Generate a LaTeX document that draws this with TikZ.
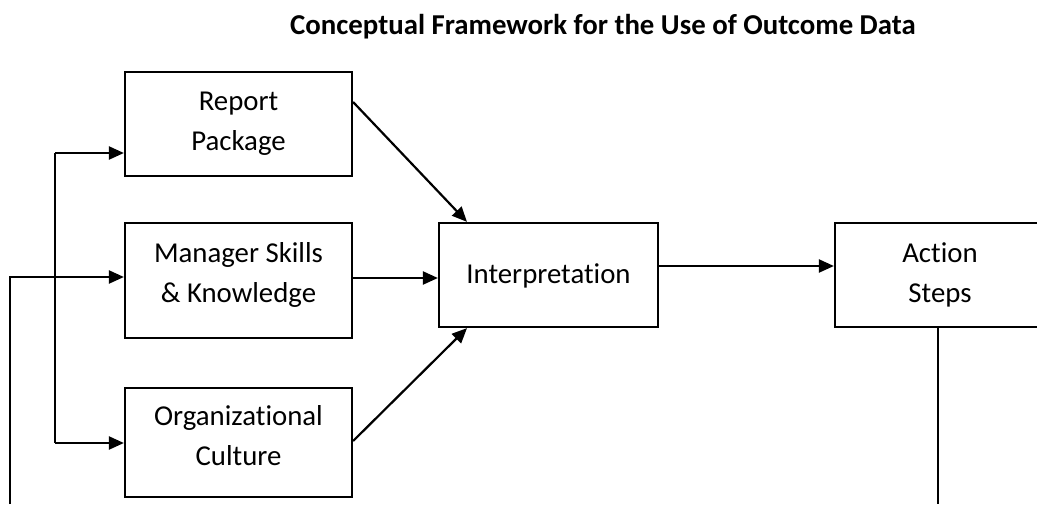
\documentclass[tikz,border=0pt]{standalone}
\usepackage{fontspec}
\setmainfont{Carlito}[Ligatures=NoCommon]
\usetikzlibrary{arrows.meta}

\tikzset{
  box/.style={draw, line width=2.2pt, inner sep=0pt, minimum width=#1},
  box/.default=227pt,
  txt/.style={align=center, inner sep=0pt, anchor=base,
    font=\fontsize{28.8}{40}\selectfont},
  heading/.style={inner sep=0pt, anchor=base,
    font=\fontsize{28.8}{34}\selectfont\bfseries},
  link/.style={line width=2.2pt, -{Triangle[length=15pt,width=13pt]}},
  plain/.style={line width=2.2pt},
}

\begin{document}
\begin{tikzpicture}[x=1pt, y=-1pt]
  \useasboundingbox (0,0) rectangle (1037,504);
  \clip (0,0) rectangle (1037,504);

  % title
  \node[heading] (title) at (603,34) {Conceptual Framework for the Use of Outcome Data};

  % input boxes
  \node[box, minimum height=104pt] (rp) at (238.5,124) {};
  \node[box, minimum height=115pt] (ms) at (238.5,280.5) {};
  \node[box, minimum height=109pt] (oc) at (238.5,442.5) {};
  % interpretation and action
  \node[box=219pt, minimum height=104pt] (ip) at (548.5,275) {};
  \node[box=210pt, minimum height=104pt] (as) at (940,275) {};

  % box texts (anchored on the baseline of the last line)
  \node[txt] (rpt) at (238.5,150) {Report\\Package};
  \node[txt] (mst) at (238.5,302) {Manager Skills\\\& Knowledge};
  \node[txt] (oct) at (238.5,465) {Organizational\\Culture};
  \node[txt] (ipt) at (548.5,283) {Interpretation};
  \node[txt] (ast) at (940,302) {Action\\Steps};

  % helper coordinates for the feeder lines
  \coordinate (ftop) at (55,153);
  \coordinate (fbot) at (55,443);
  \coordinate (loopin) at (10,277);
  \coordinate (loopend) at (10,504);
  \coordinate (asend) at (938,504);
  \coordinate (msrow) at (0,278);
  \coordinate (iprow) at (0,266);

  % inputs into interpretation
  \draw[link] ([yshift=22pt]rp.east) -- ([xshift=-81.5pt]ip.north);
  \draw[link] (ms.east |- msrow) -- (ip.west |- msrow);
  \draw[link] ([yshift=1.5pt]oc.east) -- ([xshift=-81.5pt]ip.south);
  % interpretation to action
  \draw[link] (ip.east |- iprow) -- (as.west |- iprow);

  % left feeder bracket
  \draw[plain] (ftop) -- (fbot);
  \draw[link] (ftop) -- (rp.west |- ftop);
  \draw[link] (fbot) -- (oc.west |- fbot);

  % feedback loop
  \draw[link] (loopend) -- (loopin) -- (ms.west |- loopin);
  \draw[line width=1.6pt] (as.south -| asend) -- (asend);
\end{tikzpicture}
\end{document}
